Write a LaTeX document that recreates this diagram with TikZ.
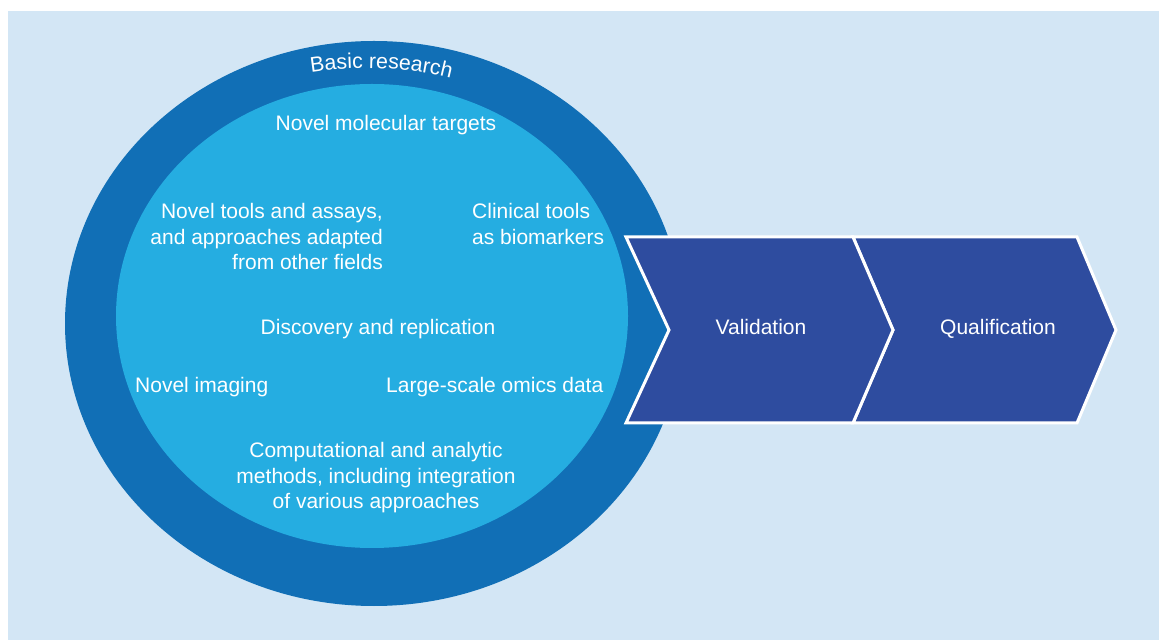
\documentclass[tikz,border=0pt]{standalone}
\usepackage{fontspec}
\setmainfont{Liberation Sans}
\usetikzlibrary{decorations.text}
\definecolor{bgblue}{RGB}{211,230,245}
\definecolor{outerblue}{RGB}{17,111,182}
\definecolor{innerblue}{RGB}{37,173,225}
\definecolor{chevblue}{RGB}{46,76,159}
\begin{document}
\begin{tikzpicture}[x=1pt,y=1pt,
  lbl/.style={font=\fontsize{21}{25.5}\selectfont, text=white, inner sep=0pt},
  chev/.style={fill=chevblue, draw=white, line width=3pt, line join=miter}]
\useasboundingbox (0,0) rectangle (1159,640);
\fill[bgblue] (8,0) rectangle (1159,629);
% basic research ring and inner disc
\fill[outerblue] (374,316.5) ellipse [x radius=309, y radius=282.5];
\fill[innerblue] (372,324) ellipse [x radius=256, y radius=232];
% curved label
\path[decorate, decoration={text along path, text align=left,
   text={|\fontsize{21.3}{25}\selectfont\color{white}|Basic research}}]
   (365,222) ++(98.87:350) arc[start angle=98.87, end angle=68, radius=350];
% chevrons
\filldraw[chev] (853,403) -- (1077,403) -- (1116,310) -- (1077,217) -- (853,217) -- (893,310) -- cycle;
\filldraw[chev] (626,403) -- (853,403) -- (893,310) -- (853,217) -- (626,217) -- (669,310) -- cycle;
% texts
\node[lbl, anchor=base] (targets) at (386,509) {Novel molecular targets};
\node[lbl, anchor=base east] (tools) at (383,421) {\begin{tabular}[t]{@{}r@{}}Novel tools and assays,\\and approaches adapted\\from other fields\end{tabular}};
\node[lbl, anchor=base west] (clinical) at (472,421) {\begin{tabular}[t]{@{}l@{}}Clinical tools\\as biomarkers\end{tabular}};
\node[lbl, anchor=base] (discovery) at (378,305) {Discovery and replication};
\node[lbl, anchor=base west] (imaging) at (135,247) {Novel imaging};
\node[lbl, anchor=base west] (omics) at (386,247) {Large-scale omics data};
\node[lbl, anchor=base] (comp) at (376,182) {\begin{tabular}[t]{@{}c@{}}Computational and analytic\\methods, including integration\\of various approaches\end{tabular}};
\node[lbl, anchor=base] (valid) at (761,305) {Validation};
\node[lbl, anchor=base] (qual) at (998,305) {Qualification};
\end{tikzpicture}
\end{document}
